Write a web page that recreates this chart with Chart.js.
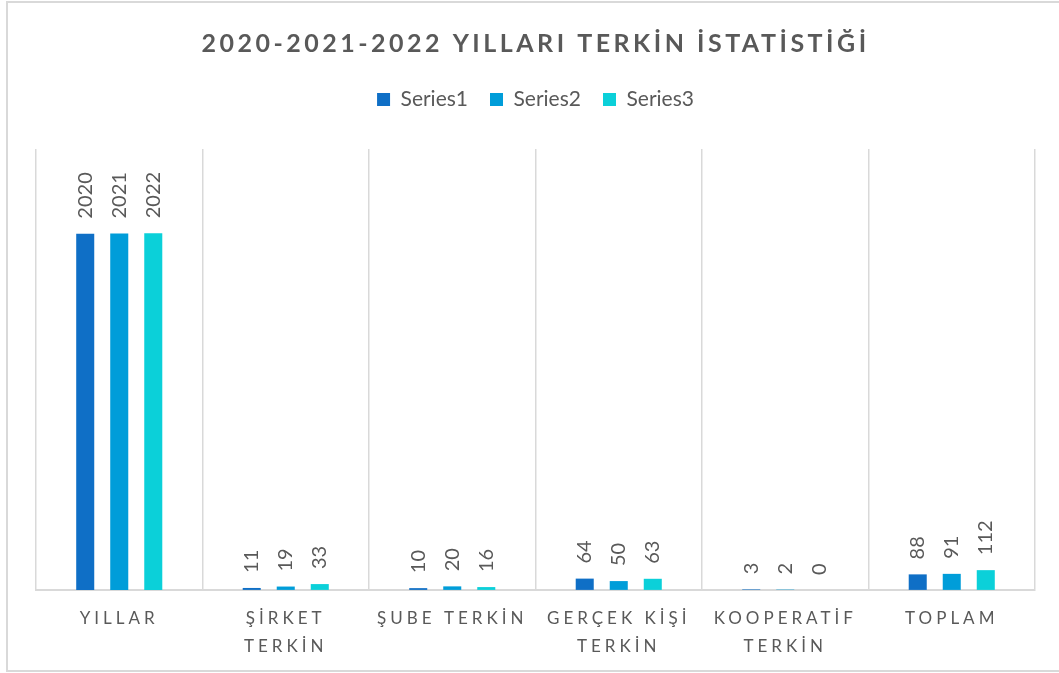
<!DOCTYPE html>
<html>
<head>
<meta charset="utf-8">
<script src="https://cdn.jsdelivr.net/npm/chart.js@4"></script>
<style>
  html, body { margin: 0; padding: 0; background: #fff; }
</style>
</head>
<body>
<canvas id="barChart" width="1059" height="673"></canvas>
<script>
// Chart data

const categories = [
    ['YILLAR'],
    ['ŞİRKET', 'TERKİN'],
    ['ŞUBE TERKİN'],
    ['GERÇEK KİŞİ', 'TERKİN'],
    ['KOOPERATİF', 'TERKİN'],
    ['TOPLAM'],
];
const seriesNames = ['Series1', 'Series2', 'Series3'];
const series1 = [2020, 11, 10, 64, 3, 88];
const series2 = [2021, 19, 20, 50, 2, 91];
const series3 = [2022, 33, 16, 63, 0, 112];

const chartPallete = ['#0F6FC6', '#009DD9', '#0BD0D9'];
const textGray = '#595959';
const lineGray = '#D9D9D9';

// letter spacing + border + data labels
const excelLook = {
    id: 'excelLook',
    beforeLayout(chart) {
        const lg = chart.legend;
        if (lg && !lg._patched) {
            lg._patched = true;
            const fit = lg.fit;
            lg.fit = function () { fit.call(this); this.height += 29; };
            const draw = lg.draw;
            lg.draw = function () {
                chart.ctx.save();
                chart.ctx.letterSpacing = '0px';
                draw.call(this);
                chart.ctx.restore();
            };
        }
        const tb = chart.titleBlock;
        if (tb && !tb._patched) {
            tb._patched = true;
            const draw = tb.draw;
            tb.draw = function () {
                chart.ctx.save();
                chart.ctx.letterSpacing = '3.5px';
                draw.call(this);
                chart.ctx.restore();
            };
        }
    },
    beforeDraw(chart) {
        const ctx = chart.ctx;
        ctx.save();
        ctx.letterSpacing = '0px';
        ctx.strokeStyle = lineGray;
        ctx.lineWidth = 2;
        ctx.strokeRect(7, 2, 1070, 669);
        ctx.restore();
        ctx.letterSpacing = '4px';
    },
    afterDatasetsDraw(chart) {
        const ctx = chart.ctx;
        ctx.save();
        ctx.letterSpacing = '0px';
        ctx.fillStyle = textGray;
        ctx.font = '20px Lato';
        ctx.textAlign = 'left';
        ctx.textBaseline = 'middle';
        chart.data.datasets.forEach((ds, i) => {
            chart.getDatasetMeta(i).data.forEach((bar, j) => {
                ctx.save();
                ctx.translate(bar.x, bar.y - 15);
                ctx.rotate(-Math.PI / 2);
                ctx.fillText(String(ds.data[j]), 0, 0);
                ctx.restore();
            });
        });
        ctx.restore();
    }
};

const barChart = document.getElementById('barChart');

const myBarChart = new Chart(barChart, {
    type: 'bar',
    data: {
        labels: categories,
        datasets: [
            { label: seriesNames[0], data: series1, backgroundColor: chartPallete[0] },
            { label: seriesNames[1], data: series2, backgroundColor: chartPallete[1] },
            { label: seriesNames[2], data: series3, backgroundColor: chartPallete[2] },
        ],
    },
    options: {
        responsive: false,
        animation: false,
        barPercentage: 0.53,
        categoryPercentage: 0.613,
        layout: { padding: { left: 36, right: 24, top: 0, bottom: 1 } },
        plugins: {
            title: {
                display: true,
                text: '2020-2021-2022 YILLARI TERKİN İSTATİSTİĞİ',
                color: textGray,
                font: { family: 'Lato', size: 25, weight: 'bold' },
                padding: { top: 29, bottom: 8 },
            },
            legend: {
                position: 'top',
                labels: {
                    color: textGray,
                    font: { family: 'Lato', size: 21 },
                    boxWidth: 13,
                    boxHeight: 13,
                    padding: 22,
                },
            },
            tooltip: { enabled: false },
        },
        scales: {
            x: {
                afterFit(scale) { scale.height -= 4; },
                grid: { color: lineGray, lineWidth: 1.5, drawTicks: false, offset: true },
                border: { color: lineGray, width: 2 },
                ticks: {
                    color: textGray,
                    font: { family: 'Lato', size: 17, lineHeight: 1.65 },
                    padding: 15,
                    maxRotation: 0,
                    autoSkip: false,
                },
            },
            y: {
                display: false,
                min: 0,
                max: 2500,
            },
        },
    },
    plugins: [excelLook],
});
</script>
</body>
</html>
